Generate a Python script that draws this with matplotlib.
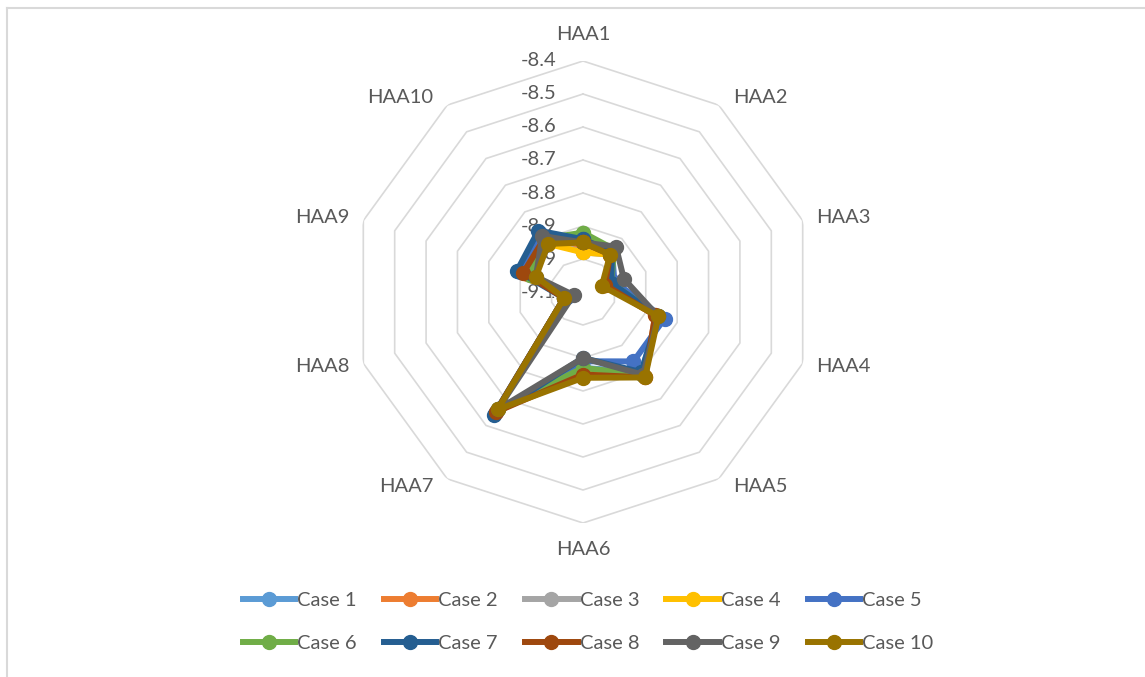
import matplotlib.pyplot as plt
import numpy as np
from matplotlib.lines import Line2D

plt.rcParams['font.family'] = ['Lato', 'DejaVu Sans']

categories = ["HAA1", "HAA2", "HAA3", "HAA4", "HAA5", "HAA6", "HAA7", "HAA8", "HAA9", "HAA10"]
ticks = [-9.1, -9.0, -8.9, -8.8, -8.7, -8.6, -8.5, -8.4]
tick_labels = ["-9.1", "-9", "-8.9", "-8.8", "-8.7", "-8.6", "-8.5", "-8.4"]

case1 = [-8.95, -8.95, -9.02, -8.86, -8.80, -8.87, -8.66, -9.04, -8.94, -8.91]
case2 = [-8.96, -8.96, -9.03, -8.87, -8.78, -8.86, -8.65, -9.04, -8.92, -8.90]
case3 = [-8.98, -8.96, -9.03, -8.86, -8.79, -8.86, -8.66, -9.04, -8.93, -8.91]
case4 = [-8.98, -8.96, -9.03, -8.86, -8.79, -8.86, -8.66, -9.04, -8.94, -8.92]
case5 = [-8.94, -8.95, -9.00, -8.84, -8.84, -8.89, -8.65, -9.05, -8.90, -8.88]
case6 = [-8.92, -8.94, -9.01, -8.86, -8.79, -8.87, -8.66, -9.04, -8.93, -8.90]
case7 = [-8.94, -8.95, -9.01, -8.86, -8.80, -8.90, -8.64, -9.04, -8.89, -8.87]
case8 = [-8.95, -8.96, -9.03, -8.87, -8.78, -8.85, -8.65, -9.04, -8.91, -8.90]
case9 = [-8.95, -8.93, -8.97, -8.86, -8.79, -8.90, -8.66, -9.07, -8.95, -8.89]
case10 = [-8.95, -8.96, -9.04, -8.86, -8.78, -8.84, -8.66, -9.04, -8.95, -8.92]

series = [case1, case2, case3, case4, case5, case6, case7, case8, case9, case10]
names = ["Case 1", "Case 2", "Case 3", "Case 4", "Case 5",
         "Case 6", "Case 7", "Case 8", "Case 9", "Case 10"]
colors = ["#5B9BD5", "#ED7D31", "#A5A5A5", "#FFC000", "#4472C4",
          "#70AD47", "#255E91", "#9E480E", "#636363", "#997300"]

W, H = 1145, 677
FS = 14.5
TXT = "#595959"
fig = plt.figure(figsize=(W / 100, H / 100), dpi=100)

# chart area border (cut off on right/bottom like the original)
fig.add_artist(Line2D([7 / W, 1], [1 - 8 / H, 1 - 8 / H], transform=fig.transFigure, color="#D9D9D9", lw=1.5))
fig.add_artist(Line2D([7 / W, 7 / W], [0, 1 - 8 / H], transform=fig.transFigure, color="#D9D9D9", lw=1.5))

cx, cy, R = 583, 292, 231
ax = fig.add_axes([(cx - R) / W, (H - cy - R) / H, 2 * R / W, 2 * R / H], projection="polar")
ax.set_theta_zero_location("N")
ax.set_theta_direction(-1)
ax.set_ylim(ticks[0], ticks[-1])
ax.grid(False)
ax.spines["polar"].set_visible(False)
ax.set_xticks([])
ax.set_yticks([])
ax.patch.set_visible(False)

angles = np.linspace(0, 2 * np.pi, len(categories), endpoint=False)
closed = np.append(angles, angles[0])

# polygon grid rings
for t in ticks[1:]:
    ax.plot(closed, [t] * len(closed), color="#D9D9D9", lw=1.2, zorder=1)

# radial value labels
for t, lab in zip(ticks, tick_labels):
    ax.annotate(lab, xy=(0, t), xytext=(-19, 0), textcoords="offset points",
                ha="right", va="center", fontsize=FS, color=TXT, zorder=0)

# category labels, anchored outside the outer ring
for a, c in zip(angles, categories):
    sx, sy = np.sin(a), np.cos(a)
    if abs(sx) < 0.1:
        ha = "center"
        va = "bottom" if sy > 0 else "top"
        off = (0, 13 * sy)
    else:
        ha = "left" if sx > 0 else "right"
        va = "center"
        off = (10 * np.sign(sx), 7 * sy)
    ax.annotate(c, xy=(a, ticks[-1]), xytext=off, textcoords="offset points",
                ha=ha, va=va, fontsize=FS, color=TXT, annotation_clip=False)

handles = []
for vals, name, col in zip(series, names, colors):
    v = np.append(vals, vals[0])
    h, = ax.plot(closed, v, color=col, lw=4.3, marker="o", markersize=10, label=name,
                 solid_joinstyle="round", zorder=3)
    handles.append(h)

# legend filled row by row
order = [0, 5, 1, 6, 2, 7, 3, 8, 4, 9]
fig.legend([handles[i] for i in order], [names[i] for i in order],
           loc="center", bbox_to_anchor=(588 / W, 1 - 622 / H), ncol=5, frameon=False,
           fontsize=FS, handlelength=2.6, handletextpad=0.1, columnspacing=1.35,
           labelspacing=1.25, labelcolor=TXT)

fig.savefig("out.png", dpi=100)
